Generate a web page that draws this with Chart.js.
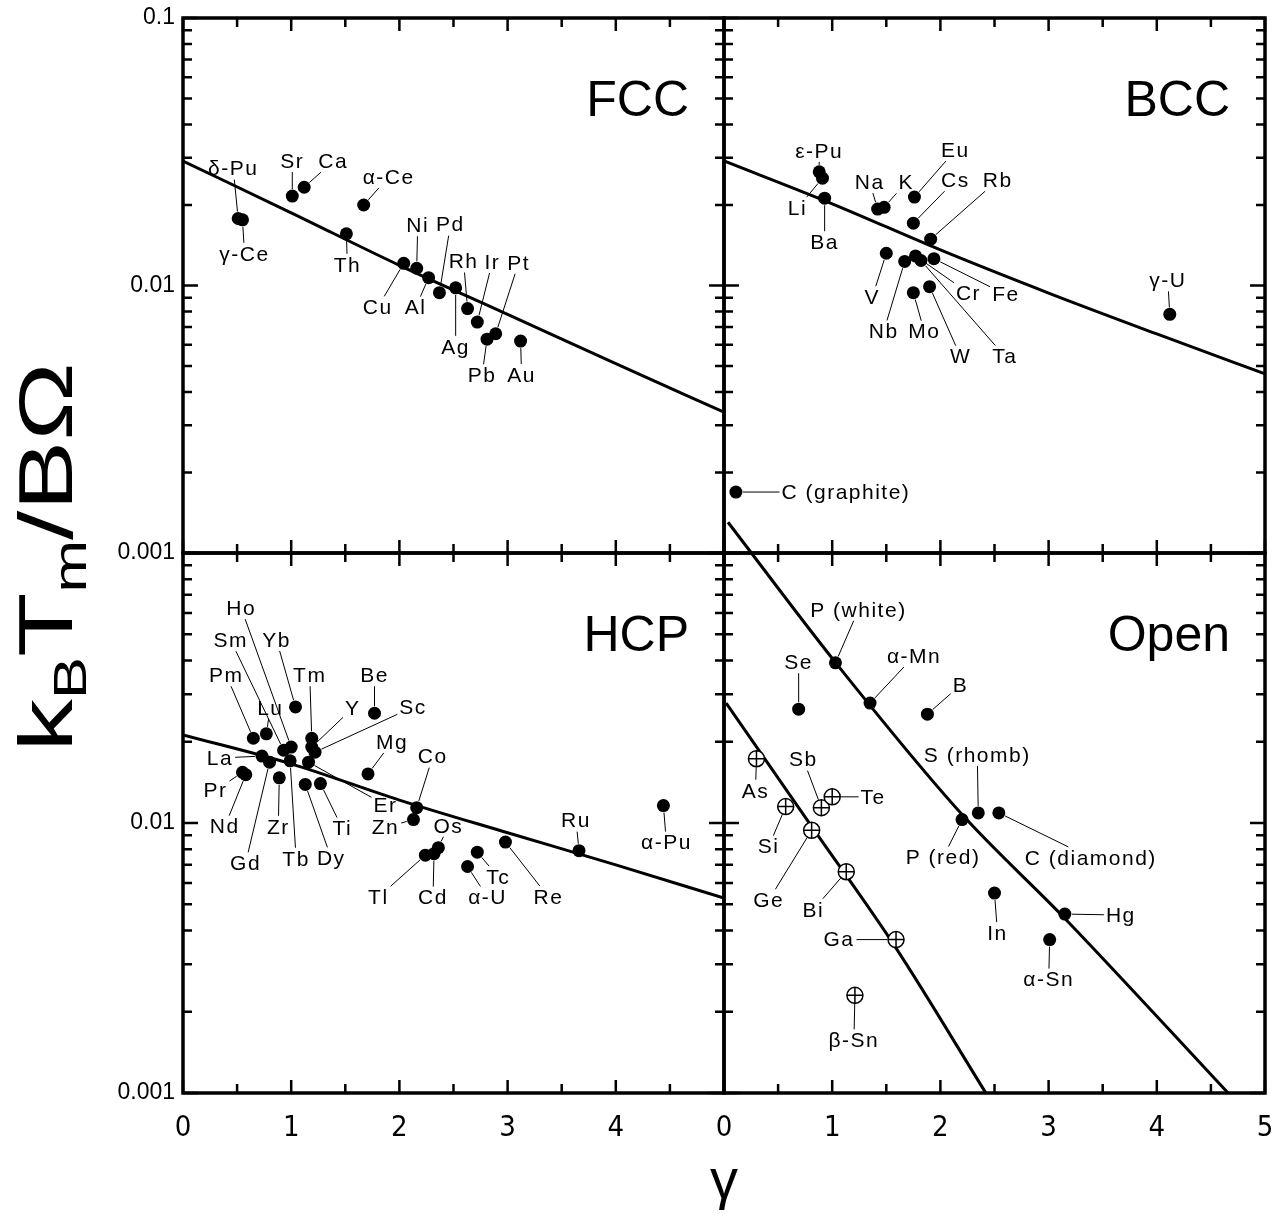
<!DOCTYPE html>
<html>
<head>
<meta charset="utf-8">
<script src="https://cdn.jsdelivr.net/npm/chart.js"></script>
<style>
  html, body { margin: 0; padding: 0; background: #fff; }
  #wrap { position: relative; width: 1278px; height: 1216px; }
</style>
</head>
<body>
<div id="wrap"><canvas id="chart" width="1278" height="1216"></canvas></div>
<script>
const SANS = '"Liberation Sans", Arial, Helvetica, sans-serif';
const NARROW = '"Liberation Sans Narrow", "DejaVu Sans Condensed", "Liberation Sans", Arial, sans-serif';

// axis tick labels
const xTicksLeft = [0, 1, 2, 3, 4];
const xTicksRight = [0, 1, 2, 3, 4, 5];
const yTicksTop = [0.001, 0.01, 0.1];
const yTicksBottom = [0.001, 0.01];

// FCC
const fccNames = ['δ-Pu', 'γ-Ce', 'Sr', 'Ca', 'α-Ce', 'Th', 'Cu', 'Ni', 'Al', 'Pd', 'Ag', 'Rh', 'Ir', 'Pb', 'Pt', 'Au'];
const fccGamma = [0.51, 0.55, 1.01, 1.12, 1.67, 1.51, 2.04, 2.16, 2.27, 2.37, 2.52, 2.63, 2.72, 2.81, 2.89, 3.12];
const fccValue = [0.0178, 0.0176, 0.0216, 0.0233, 0.0200, 0.0156, 0.0121, 0.0116, 0.0107, 0.0094, 0.0098, 0.0082, 0.0073, 0.0063, 0.0066, 0.0062];
const fccCurveGamma = [0, 1, 2, 3, 4, 5];
const fccCurveValue = [0.0292, 0.0187, 0.0119, 0.0078, 0.0051, 0.00336];

// BCC
const bccNames = ['ε-Pu', 'Li', 'Ba', 'Na', 'K', 'Eu', 'Cs', 'Rb', 'V', 'Nb', 'Cr', 'Ta', 'Fe', 'Mo', 'W', 'γ-U', 'C (graphite)'];
const bccGamma = [0.88, 0.91, 0.93, 1.42, 1.48, 1.76, 1.75, 1.91, 1.50, 1.67, 1.77, 1.82, 1.94, 1.75, 1.90, 4.12, 0.11];
const bccValue = [0.0266, 0.0252, 0.0212, 0.0193, 0.0196, 0.0214, 0.0171, 0.0149, 0.0132, 0.0123, 0.0129, 0.0124, 0.0126, 0.0094, 0.0099, 0.0078, 0.00169];
const bccCurveGamma = [0, 1, 2, 3, 4, 5];
const bccCurveValue = [0.0292, 0.0202, 0.01358, 0.00937, 0.00659, 0.00467];

// HCP
const hcpNames = ['Ho', 'Sm', 'Yb', 'Pm', 'Tm', 'Be', 'Lu', 'Y', 'Sc', 'La', 'Mg', 'Co', 'Pr', 'Nd', 'Zr', 'Ti', 'Er', 'Zn', 'Gd', 'Tb', 'Dy', 'Os', 'Tl', 'Cd', 'α-U', 'Tc', 'Re', 'Ru', 'α-Pu'];
const hcpGamma = [1.00, 0.93, 1.04, 0.65, 1.19, 1.77, 0.77, 1.19, 1.22, 0.73, 1.71, 2.16, 0.55, 0.58, 0.89, 1.27, 1.16, 2.13, 0.80, 0.99, 1.13, 2.36, 2.24, 2.32, 2.63, 2.72, 2.98, 3.66, 4.44];
const hcpValue = [0.0191, 0.0186, 0.0269, 0.0206, 0.0206, 0.0255, 0.0214, 0.0191, 0.0183, 0.0177, 0.0152, 0.0114, 0.0154, 0.0151, 0.0147, 0.0140, 0.0168, 0.0103, 0.0168, 0.0170, 0.0139, 0.0081, 0.0076, 0.0077, 0.0069, 0.0078, 0.0085, 0.0079, 0.0116];
const hcpCurveGamma = [0, 1, 2, 3, 4, 5];
const hcpCurveValue = [0.0212, 0.01656, 0.01216, 0.0092, 0.0070, 0.00527];

// Open (filled: metals/non-metals, crossed: semimetals)
const openNames = ['P (white)', 'α-Mn', 'Se', 'B', 'P (red)', 'S (rhomb)', 'C (diamond)', 'In', 'Hg', 'α-Sn'];
const openGamma = [1.03, 1.35, 0.69, 1.88, 2.20, 2.35, 2.54, 2.50, 3.15, 3.01];
const openValue = [0.0392, 0.0278, 0.0264, 0.0253, 0.0103, 0.0109, 0.0109, 0.0055, 0.0046, 0.0037];
const crossNames = ['As', 'Si', 'Sb', 'Te', 'Ge', 'Bi', 'Ga', 'β-Sn'];
const crossGamma = [0.30, 0.57, 0.90, 1.00, 0.81, 1.13, 1.59, 1.21];
const crossValue = [0.0173, 0.0115, 0.0114, 0.0125, 0.0094, 0.0066, 0.0037, 0.0023];
const openUpperGamma = [0.037, 1.033, 2.205, 3.146, 4.659];
const openUpperValue = [0.130, 0.0392, 0.0107, 0.00445, 0.001];
const openLowerGamma = [0.02, 0.80, 1.59, 2.42];
const openLowerValue = [0.0278, 0.00984, 0.00344, 0.001];

// label placement, pixel shift of the label centre from its point
const fccLabelShift = [[-5, -50], [2, 34], [0, -35], [29, -26], [25, -28], [1, 31], [-26, 44], [1, -43], [-13, 30], [11, -68], [0, 59], [-4, -47], [15, -60], [-5, 36], [23, -71], [1, 34]];
const bccLabelShift = [[0, -21], [-25, 30], [0, 44], [-8, -27], [22, -25], [41, -47], [42, -43], [67, -59], [-14, 44], [-21, 70], [53, 37], [84, 96], [72, 36], [11, 39], [31, 70], [-2, -34], [110, 0]];
const hcpLabelShift = [[-50, -139], [-53, -110], [-19, -67], [-27, -63], [-2, -63], [0, -38], [4, -26], [41, -39], [98, -45], [-42, 2], [24, -32], [16, -51], [-27, 18], [-21, 52], [-1, 49], [22, 45], [77, 43], [-28, 8], [-24, 101], [6, 98], [26, 74], [10, -22], [-47, 42], [-1, 44], [20, 31], [21, 25], [43, 55], [-3, -30], [3, 37]];
const openLabelShift = [[23, -53], [44, -47], [0, -47], [33, -29], [-19, 38], [-1, -58], [92, 45], [3, 40], [56, 1], [-1, 40]];
const crossLabelShift = [[-1, 32], [-17, 40], [-18, -48], [41, 0], [-43, 70], [-33, 38], [-57, 0], [-1, 45]];

const panels = [
  { x: 'xL', y: 'yTop', title: 'FCC' },
  { x: 'xR', y: 'yTop', title: 'BCC' },
  { x: 'xL', y: 'yBot', title: 'HCP' },
  { x: 'xR', y: 'yBot', title: 'Open' }
];

function pts(gs, vs) {
  return gs.map((g, i) => ({ x: g, y: vs[i] }));
}

function dots(xId, yId, gs, vs, names, shift) {
  return {
    xAxisID: xId, yAxisID: yId, order: 2,
    data: pts(gs, vs), names: names, shift: shift,
    pointRadius: 6.5, pointBackgroundColor: '#000', pointBorderColor: '#000', pointBorderWidth: 0,
    showLine: false
  };
}

function curve(xId, yId, gs, vs) {
  return {
    xAxisID: xId, yAxisID: yId, order: 3,
    data: pts(gs, vs),
    showLine: true, pointRadius: 0, borderColor: '#000', borderWidth: 3,
    cubicInterpolationMode: 'monotone', fill: false
  };
}

const openUpper = curve('xR', 'yBot', openUpperGamma, openUpperValue);
openUpper.clip = false; // the line runs on into the BCC panel above

const datasets = [
  dots('xL', 'yTop', fccGamma, fccValue, fccNames, fccLabelShift),
  curve('xL', 'yTop', fccCurveGamma, fccCurveValue),
  dots('xR', 'yTop', bccGamma, bccValue, bccNames, bccLabelShift),
  curve('xR', 'yTop', bccCurveGamma, bccCurveValue),
  dots('xL', 'yBot', hcpGamma, hcpValue, hcpNames, hcpLabelShift),
  curve('xL', 'yBot', hcpCurveGamma, hcpCurveValue),
  dots('xR', 'yBot', openGamma, openValue, openNames, openLabelShift),
  {
    xAxisID: 'xR', yAxisID: 'yBot', order: 1,
    data: pts(crossGamma, crossValue),
    pointStyle: 'cross', pointRadius: 8, pointBorderColor: '#000', pointBorderWidth: 1.5, showLine: false
  },
  {
    xAxisID: 'xR', yAxisID: 'yBot', order: 2,
    data: pts(crossGamma, crossValue), names: crossNames, shift: crossLabelShift,
    pointStyle: 'circle', pointRadius: 8, pointBackgroundColor: '#fff', pointBorderColor: '#000', pointBorderWidth: 1.5, showLine: false
  },
  openUpper,
  curve('xR', 'yBot', openLowerGamma, openLowerValue)
];

function xAxis(labels) {
  return {
    type: 'linear', position: 'bottom', stack: 'h', stackWeight: 1, min: 0, max: 5,
    grid: { display: false, drawTicks: false }, border: { display: false },
    afterBuildTicks: s => { s.ticks = labels.map(v => ({ value: v })); },
    afterFit: s => { s.height = 123; s.paddingLeft = 0; s.paddingRight = 0; },
    ticks: { font: { family: NARROW, size: 29 }, color: '#000', padding: 18, maxRotation: 0, autoSkip: false, callback: v => String(v) }
  };
}

function yAxis(labels, weight, stackWeight) {
  return {
    type: 'logarithmic', position: 'left', stack: 'v', stackWeight: stackWeight, weight: weight, min: 0.001, max: 0.1,
    grid: { display: false, drawTicks: false }, border: { display: false },
    afterBuildTicks: s => { s.ticks = labels.map(v => ({ value: v })); },
    afterFit: s => { s.width = 183; s.paddingTop = 0; s.paddingBottom = 0; },
    ticks: { font: { family: SANS, size: 23 }, color: '#000', padding: 8, autoSkip: false, callback: v => String(v) }
  };
}

const framePlugin = {
  id: 'frames',
  afterDatasetsDraw(chart) {
    const ctx = chart.ctx;
    ctx.save();
    ctx.strokeStyle = '#000';
    ctx.fillStyle = '#000';
    panels.forEach(p => {
      const xs = chart.scales[p.x], ys = chart.scales[p.y];
      const l = xs.left, r = xs.right, t = ys.top, b = ys.bottom;
      ctx.lineWidth = 2.5;
      ctx.beginPath();
      for (let v = 0; v <= 5; v += 0.5) {
        const px = xs.getPixelForValue(v);
        const len = v % 1 === 0 ? 13 : 9;
        ctx.moveTo(px, b); ctx.lineTo(px, b - len);
        ctx.moveTo(px, t); ctx.lineTo(px, t + len);
      }
      for (let d = -3; d <= -1; d++) {
        for (let m = 1; m <= 9; m++) {
          const v = m * Math.pow(10, d);
          if (v > 0.1 + 1e-9) continue;
          const py = ys.getPixelForValue(v);
          const len = m === 1 ? 15 : 9;
          ctx.moveTo(l, py); ctx.lineTo(l + len, py);
          ctx.moveTo(r, py); ctx.lineTo(r - len, py);
        }
      }
      ctx.stroke();
      ctx.lineWidth = 3.5;
      ctx.strokeRect(l, t, r - l, b - t);
      ctx.font = '50px ' + SANS;
      ctx.textAlign = 'right';
      ctx.textBaseline = 'alphabetic';
      ctx.fillText(p.title, r - 35, t + 98);
    });

    // y axis title, stretched along its length like the original
    ctx.save();
    ctx.translate(72, 557);
    ctx.rotate(-Math.PI / 2);
    ctx.scale(1.38, 1);
    const big = '76px ' + SANS, small = '46px ' + SANS;
    const parts = [['k', big, 0], ['B', small, 14], ['T', big, 0], ['m', small, 14], ['/BΩ', big, 0]];
    let total = 0;
    parts.forEach(q => { ctx.font = q[1]; total += ctx.measureText(q[0]).width; });
    let x = -total / 2;
    ctx.textAlign = 'left';
    parts.forEach(q => { ctx.font = q[1]; ctx.fillText(q[0], x, q[2]); x += ctx.measureText(q[0]).width; });
    ctx.restore();

    ctx.font = '56px ' + SANS;
    ctx.textAlign = 'center';
    ctx.textBaseline = 'alphabetic';
    ctx.fillText('γ', chart.scales.xL.right, 1198);
    ctx.restore();
  }
};

const labelPlugin = {
  id: 'pointLabels',
  afterDatasetsDraw(chart) {
    const ctx = chart.ctx;
    ctx.save();
    ctx.font = '21px ' + SANS;
    ctx.letterSpacing = '1.5px';
    ctx.fillStyle = '#000';
    ctx.strokeStyle = '#000';
    ctx.lineWidth = 1;
    ctx.textAlign = 'center';
    ctx.textBaseline = 'middle';
    chart.data.datasets.forEach((ds, i) => {
      if (!ds.names) return;
      const meta = chart.getDatasetMeta(i);
      const rad = ds.pointRadius;
      meta.data.forEach((el, j) => {
        const px = el.x, py = el.y;
        const cx = px + ds.shift[j][0], cy = py + ds.shift[j][1];
        const txt = ds.names[j];
        const hw = ctx.measureText(txt).width / 2 + 2, hh = 11;
        ctx.fillText(txt, cx, cy + 1);
        const vx = px - cx, vy = py - cy;
        const dist = Math.hypot(vx, vy);
        const tb = Math.min(vx !== 0 ? hw / Math.abs(vx) : Infinity, vy !== 0 ? hh / Math.abs(vy) : Infinity);
        if (tb >= 1) return;
        const sx = cx + vx * tb, sy = cy + vy * tb;
        const ex = px - vx / dist * (rad + 0.5), ey = py - vy / dist * (rad + 0.5);
        if (Math.hypot(ex - sx, ey - sy) < 3 || (ex - sx) * vx + (ey - sy) * vy < 0) return;
        ctx.beginPath();
        ctx.moveTo(sx, sy);
        ctx.lineTo(ex, ey);
        ctx.stroke();
      });
    });
    ctx.restore();
  }
};

new Chart(document.getElementById('chart'), {
  type: 'scatter',
  data: { datasets: datasets },
  options: {
    responsive: false,
    animation: false,
    events: [],
    layout: { padding: { top: 18, right: 13, left: 0, bottom: 0 } },
    plugins: { legend: { display: false }, tooltip: { enabled: false } },
    scales: {
      xL: xAxis(xTicksLeft),
      xR: xAxis(xTicksRight),
      yTop: yAxis(yTicksTop, 1, 535),
      yBot: yAxis(yTicksBottom, 0, 540)
    }
  },
  plugins: [framePlugin, labelPlugin]
});
</script>
</body>
</html>
